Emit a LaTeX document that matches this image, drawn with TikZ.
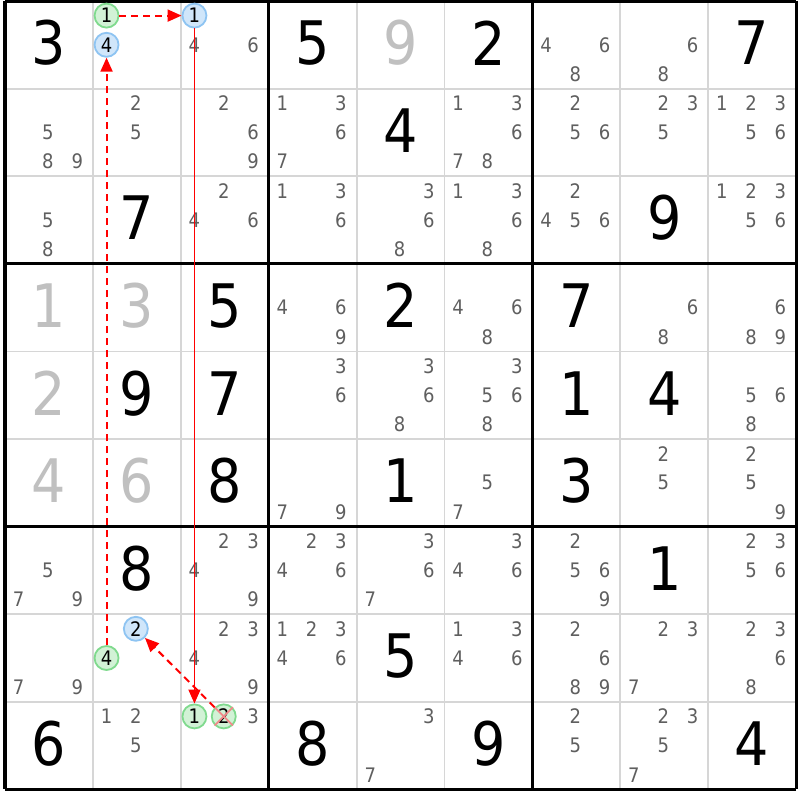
\documentclass[tikz,border=0pt]{standalone}
\usepackage{fontspec}
\setmainfont{DejaVu Sans}[FakeStretch=0.9]
\usetikzlibrary{arrows.meta}

\definecolor{candgray}{HTML}{5F5F5F}
\definecolor{givengray}{HTML}{C0C0C0}
\definecolor{thingrid}{HTML}{D6D6D6}
\definecolor{onfill}{HTML}{D2F2D6}
\definecolor{ondraw}{HTML}{80DA8E}
\definecolor{offfill}{HTML}{D0E6FA}
\definecolor{offdraw}{HTML}{8EC4F2}
\definecolor{linkred}{HTML}{FF0000}
\definecolor{crossred}{HTML}{F08A8A}

\newcommand{\cw}{87.9}
\newcommand{\ch}{87.6}
% centre of candidate #3 in row #1, column #2
\newcommand{\candpt}[3]{%
  \pgfmathsetmacro\candx{5+(#2-1)*\cw+(mod(#3-1,3)+0.5)*\cw/3-1}%
  \pgfmathsetmacro\candy{1+(#1-1)*\ch+(floor((#3-1)/3)+0.5)*\ch/3}%
}

\tikzset{
  given/.style={font=\fontsize{60}{60}\selectfont, inner sep=0pt},
  cand/.style={font=\fontsize{20}{20}\selectfont, text=candgray, inner sep=0pt},
  oncand/.style={circle, draw=ondraw, fill=onfill, line width=1.8pt, minimum size=24pt,
    inner sep=0pt, font=\fontsize{20}{20}\selectfont},
  offcand/.style={oncand, draw=offdraw, fill=offfill},
  strong/.style={-{Triangle[length=14pt,width=12pt]}, linkred, line width=1.5pt},
  weak/.style={strong, line width=2pt, dash pattern=on 7pt off 5pt},
}

\begin{document}
\begin{tikzpicture}[x=1pt,y=-1pt]
\useasboundingbox (0,0) rectangle (800,800);
\fill[white] (0,0) rectangle (800,800);

% grid
\foreach \i in {1,2,4,5,7,8} {
  \draw[thingrid, line width=1.8pt] ({5+\i*\cw},1) -- ({5+\i*\cw},{1+9*\ch});
  \draw[thingrid, line width=1.8pt] (5,{1+\i*\ch}) -- ({5+9*\cw},{1+\i*\ch});
}
\foreach \i in {0,3,6,9} {
  \draw[black, line width=3.2pt] ({5+\i*\cw},1) -- ({5+\i*\cw},{1+9*\ch});
  \draw[black, line width=3.2pt] (5,{1+\i*\ch}) -- ({5+9*\cw},{1+\i*\ch});
}

% givens
\foreach \row/\col/\d in {1/1/3, 1/4/5, 1/6/2, 1/9/7, 2/5/4, 3/2/7, 3/8/9, 4/3/5,
    4/5/2, 4/7/7, 5/2/9, 5/3/7, 5/7/1, 5/8/4, 6/3/8, 6/5/1, 6/7/3, 7/2/8,
    7/8/1, 8/5/5, 9/1/6, 9/4/8, 9/6/9, 9/9/4}
  \node[given] at ({5+(\col-0.5)*\cw},{1+(\row-0.5)*\ch-2}) {\d};
\foreach \row/\col/\d in {1/5/9, 4/1/1, 4/2/3, 5/1/2, 6/1/4, 6/2/6}
  \node[given, text=givengray] at ({5+(\col-0.5)*\cw},{1+(\row-0.5)*\ch-2}) {\d};

% pencil marks
\foreach \row/\col/\ds in {1/3/{4,6}, 1/7/{4,6,8}, 1/8/{6,8},
    2/1/{5,8,9}, 2/2/{2,5}, 2/3/{2,6,9}, 2/4/{1,3,6,7}, 2/6/{1,3,6,7,8},
    2/7/{2,5,6}, 2/8/{2,3,5}, 2/9/{1,2,3,5,6},
    3/1/{5,8}, 3/3/{2,4,6}, 3/4/{1,3,6}, 3/5/{3,6,8}, 3/6/{1,3,6,8},
    3/7/{2,4,5,6}, 3/9/{1,2,3,5,6},
    4/4/{4,6,9}, 4/6/{4,6,8}, 4/8/{6,8}, 4/9/{6,8,9},
    5/4/{3,6}, 5/5/{3,6,8}, 5/6/{3,5,6,8}, 5/9/{5,6,8},
    6/4/{7,9}, 6/6/{5,7}, 6/8/{2,5}, 6/9/{2,5,9},
    7/1/{5,7,9}, 7/3/{2,3,4,9}, 7/4/{2,3,4,6}, 7/5/{3,6,7}, 7/6/{3,4,6},
    7/7/{2,5,6,9}, 7/9/{2,3,5,6},
    8/1/{7,9}, 8/3/{2,3,4,9}, 8/4/{1,2,3,4,6}, 8/6/{1,3,4,6}, 8/7/{2,6,8,9},
    8/8/{2,3,7}, 8/9/{2,3,6,8},
    9/2/{1,2,5}, 9/3/{3}, 9/5/{3,7}, 9/7/{2,5}, 9/8/{2,3,5,7}}
  \foreach \d in \ds {
    \candpt{\row}{\col}{\d}
    \node[cand] at (\candx,\candy) {\d};
  }

% marked candidates
\candpt{1}{2}{1} \node[oncand] (r1c2n1) at (\candx,\candy) {1};
\candpt{1}{2}{4} \node[offcand] (r1c2n4) at (\candx,\candy) {4};
\candpt{1}{3}{1} \node[offcand] (r1c3n1) at (\candx,\candy) {1};
\candpt{8}{2}{2} \node[offcand] (r8c2n2) at (\candx,\candy) {2};
\candpt{8}{2}{4} \node[oncand] (r8c2n4) at (\candx,\candy) {4};
\candpt{9}{3}{1} \node[oncand] (r9c3n1) at (\candx,\candy) {1};
\candpt{9}{3}{2} \node[oncand] (r9c3n2) at (\candx,\candy) {2};
\draw[crossred, line width=1.8pt] (r9c3n2.north west) -- (r9c3n2.south east)
  (r9c3n2.north east) -- (r9c3n2.south west);

% links
\draw[weak] (r1c2n1) -- (r1c3n1);
\draw[strong] (r1c3n1) -- (r9c3n1);
\draw[weak] (r8c2n4) -- (r1c2n4);
\draw[weak] (r9c3n2) -- (r8c2n2);
\end{tikzpicture}
\end{document}
